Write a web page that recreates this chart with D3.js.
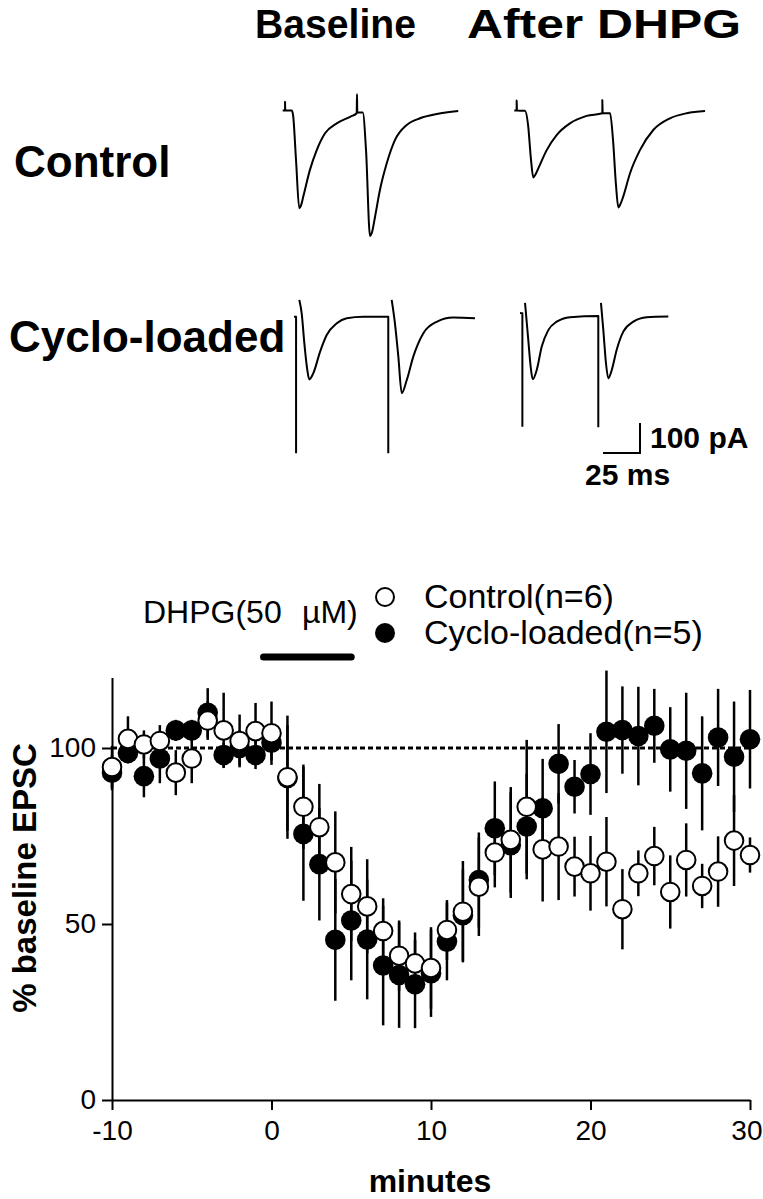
<!DOCTYPE html>
<html><head><meta charset="utf-8">
<script src="https://cdn.jsdelivr.net/npm/d3@7"></script>
<style>body{margin:0;background:#fff} svg{display:block}</style>
</head><body>
<svg id="c" width="763" height="1199"></svg>
<script>
// ---------- time-course data ----------
const minutes = [-10,-9,-8,-7,-6,-5,-4,-3,-2,-1,0,1,2,3,4,5,6,7,8,9,10,11,12,13,14,15,16,17,18,19,20,21,22,23,24,25,26,27,28,29,30];
const controlMean = [94.6,102.6,101,102,93,97,107.8,105,102,104.8,104.2, 91.7,83.3,77.5,67.5,58.5,55,48,41,38.8,37.5, 48.3,53.5,60.6,70.3,73.9,83.3,71.2,72,66.3,64.4, 67.7,54.2,64.4,69.3,59.1,68.2,60.8,64.9,73.7,69.6];
const controlSem  = [6,6.4,4,4.5,6.4,7,5.5,10.7,7.5,8,9, 17.5,12,12.3,14.5,13.4,13.4,9.3,10,8.8,11.6, 8.5,14.4,14,9.9,15,19,14.8,15.2,8.5,10.6, 12.7,11.4,6.5,8.3,10.4,10.4,6.3,10,12.9,5];
const cycloMean   = [93,98.6,92,97,105,105,110,98,100,98,101.5, 91.5,75.6,67,45.5,51,45.6,38.2,35.5,32.9,36, 45,52.5,62.5,77.2,72.4,77.7,82.9,95.5,89,92.6, 104.6,105.1,103.4,106.3,99.6,99.2,92.8,103,97.5,102.5];
const cycloSem    = [5,3,6,7,3,3,7,3.5,5,4,5, 15,19,16,17.3,17,17,17,15,12.5,12.4, 11,13,13.5,13.3,15,15,14,11.3,7.6,11.6, 17.4,12.4,14,10.5,12,16.5,16.2,13.8,15.7,14];
const xTicks = [-10,0,10,20,30];
const yTicks = [0,50,100];
const dhpgWindow = [-0.5, 5];
const dhpgLabel = ["DHPG(50", "\u00B5M)"];
const legendLabels = ["Control(n=6)", "Cyclo-loaded(n=5)"];

// ---------- example traces: [ms, pA], null pA = pen lift ----------
const ctrlBaseTrace = [[0,0],[1.6,0],[1.6,29],[1.7,0],[6.1,0],[7.0,-15],[9.0,-165],[11.2,-326],[12.4,-316],[13.9,-287],[18.4,-198],[23.0,-132],[28.6,-76],[36.5,-43],[45.5,-21],[50.0,-9],[50.2,55],[50.4,-7],[54.1,-7],[56.3,-132],[59.0,-418],[60.4,-405],[62.4,-354],[65.7,-265],[70.3,-176],[75.9,-98],[83.8,-48],[92.8,-26],[104.1,-12],[118.6,-2]];
const ctrlDhpgTrace = [[0,0],[1.6,0],[1.6,33],[1.8,0],[7.2,-1],[9.3,-48],[11.3,-165],[12.8,-223],[14.2,-214],[16.2,-193],[21.9,-132],[28.6,-82],[37.6,-43],[48.9,-18],[59.5,-9],[59.5,35],[59.7,-9],[64.7,-9],[66.7,-98],[68.7,-248],[70.3,-323],[71.7,-312],[73.6,-287],[78.2,-209],[84.9,-132],[93.9,-65],[105.2,-26],[116.5,-9],[128.9,-2]];
const cycloBaseTrace = [[0,0],[1.4,0],[1.4,-455],[1.4,null],[3.6,56],[5.2,11],[7.0,-89],[9.0,-178],[10.3,-209],[13.0,-189],[17.6,-117],[22.1,-61],[28.9,-22],[35.6,-5],[46.8,0],[63.7,0],[63.7,-455],[63.7,null],[66.0,56],[68.2,-22],[70.5,-133],[72.8,-255],[76.2,-211],[80.6,-133],[87.4,-55],[96.4,-17],[107.6,-3],[122.3,-5]];
const cycloDhpgTrace = [[0,10],[1.6,9],[1.6,-369],[1.6,null],[3.4,44],[5.6,-80],[7.2,-169],[8.6,-211],[11.3,-180],[14.7,-102],[19.1,-47],[24.8,-19],[33.8,-4],[52.9,0],[52.9,-371],[52.9,null],[54.7,44],[56.3,-47],[58.1,-158],[59.7,-208],[62.0,-180],[65.3,-113],[69.8,-52],[76.6,-19],[85.6,-4],[100.2,-2]];
const scaleBarMs = 25, scaleBarPA = 100;

const svg = d3.select("#c");
const FONT = "Liberation Sans, Arial, sans-serif";

// ---------- header texts ----------
svg.append("text").attr("x",255).attr("y",38).attr("textLength",161).attr("lengthAdjust","spacingAndGlyphs")
  .style("font",`bold 40px ${FONT}`).text("Baseline");
svg.append("text").attr("x",467).attr("y",38).attr("textLength",274).attr("lengthAdjust","spacingAndGlyphs")
  .style("font",`bold 40px ${FONT}`).text("After DHPG");
svg.append("text").attr("x",14).attr("y",177).style("font",`bold 44px ${FONT}`).text("Control");
svg.append("text").attr("x",9).attr("y",352).style("font",`bold 44px ${FONT}`).text("Cyclo-loaded");

// ---------- traces ----------
const msPx = 1.48, paPx = 0.30;
function drawTrace(data, x0, yb){
  const tx = d3.scaleLinear().domain([0,100]).range([x0, x0+100*msPx]);
  const ty = d3.scaleLinear().domain([0,-100]).range([yb, yb+100*paPx]);
  const line = d3.line().defined(d=>d[1]!==null).x(d=>tx(d[0])).y(d=>ty(d[1])).curve(d3.curveMonotoneX);
  svg.append("path").attr("d",line(data)).attr("fill","none").attr("stroke","#000")
    .attr("stroke-width",2).attr("stroke-linejoin","round");
}
drawTrace(ctrlBaseTrace, 282.7, 110.5);
drawTrace(ctrlDhpgTrace, 514.3, 110.5);
drawTrace(cycloBaseTrace, 294, 316.7);
drawTrace(cycloDhpgTrace, 520, 316);
// scale bar
{
  const sx = d3.scaleLinear().domain([0,100]).range([603, 603+100*msPx]);
  const sy = d3.scaleLinear().domain([0,100]).range([453, 453-100*paPx]);
  svg.append("path").attr("d", d3.line()([[sx(0),sy(0)],[sx(scaleBarMs),sy(0)],[sx(scaleBarMs),sy(scaleBarPA)]]))
    .attr("fill","none").attr("stroke","#000").attr("stroke-width",2);
  svg.append("text").attr("x",650).attr("y",448).style("font",`bold 30px ${FONT}`).text(`${scaleBarPA} pA`);
  svg.append("text").attr("x",585).attr("y",485).style("font",`bold 30px ${FONT}`).text(`${scaleBarMs} ms`);
}

// ---------- time course ----------
const x = d3.scaleLinear().domain([-10,30]).range([112,750]);
const y = d3.scaleLinear().domain([0,120]).range([1100,677.6]);

// dashed 100% line
svg.append("line").attr("x1",x(-10)).attr("x2",x(30)).attr("y1",y(100)).attr("y2",y(100))
  .attr("stroke","#000").attr("stroke-width",3).attr("stroke-dasharray","5,3");

const yAxis = svg.append("g").attr("transform",`translate(${x(-10)},0)`)
  .call(d3.axisLeft(y).tickValues(yTicks).tickFormat(d=>String(d)).tickSize(10).tickSizeOuter(0).tickPadding(6));
const xAxis = svg.append("g").attr("transform",`translate(0,${y(0)})`)
  .call(d3.axisBottom(x).tickValues(xTicks).tickFormat(d=>String(d)).tickSize(10).tickSizeOuter(0).tickPadding(10));
[yAxis,xAxis].forEach(g=>{
  g.selectAll("path,line").attr("stroke","#000").attr("stroke-width",2);
  g.selectAll("text").style("font",`28px ${FONT}`).attr("fill","#000");
});
xAxis.selectAll(".tick text").filter(d=>d===30).attr("text-anchor","end").attr("x",12);

svg.append("text").attr("transform","translate(36,878) rotate(-90)").attr("text-anchor","middle")
  .style("font",`bold 33px ${FONT}`).text("% baseline EPSC");
svg.append("text").attr("x",430).attr("y",1192).attr("text-anchor","middle")
  .style("font",`bold 32px ${FONT}`).text("minutes");

// DHPG bar
svg.append("line").attr("x1",x(dhpgWindow[0])).attr("x2",x(dhpgWindow[1])).attr("y1",657).attr("y2",657)
  .attr("stroke","#000").attr("stroke-width",7).attr("stroke-linecap","round");
const dt = svg.append("text").attr("x",143).attr("y",623).style("font",`32px ${FONT}`);
dt.append("tspan").text(dhpgLabel[0]);
dt.append("tspan").attr("x",302).text(dhpgLabel[1]);

// legend
svg.append("circle").attr("cx",385).attr("cy",597).attr("r",9).attr("fill","#fff").attr("stroke","#000").attr("stroke-width",2);
svg.append("circle").attr("cx",385).attr("cy",633).attr("r",10).attr("fill","#000");
svg.append("text").attr("x",424).attr("y",608).style("font",`34px ${FONT}`).text(legendLabels[0]);
svg.append("text").attr("x",424).attr("y",644).style("font",`34px ${FONT}`).text(legendLabels[1]);

// error bars & points
const cyc = minutes.map((m,i)=>({m, v:cycloMean[i], e:cycloSem[i]}));
const ctl = minutes.map((m,i)=>({m, v:controlMean[i], e:controlSem[i]}));
function bars(data){
  svg.append("g").selectAll("line").data(data).join("line")
    .attr("x1",d=>x(d.m)).attr("x2",d=>x(d.m)).attr("y1",d=>y(d.v+d.e)).attr("y2",d=>y(d.v-d.e))
    .attr("stroke","#000").attr("stroke-width",2.5);
}
bars(cyc); bars(ctl);
svg.append("g").selectAll("circle").data(cyc).join("circle")
  .attr("cx",d=>x(d.m)).attr("cy",d=>y(d.v)).attr("r",10.3).attr("fill","#000");
svg.append("g").selectAll("circle").data(ctl).join("circle")
  .attr("cx",d=>x(d.m)).attr("cy",d=>y(d.v)).attr("r",9.3).attr("fill","#fff").attr("stroke","#000").attr("stroke-width",2);
</script>
</body></html>
